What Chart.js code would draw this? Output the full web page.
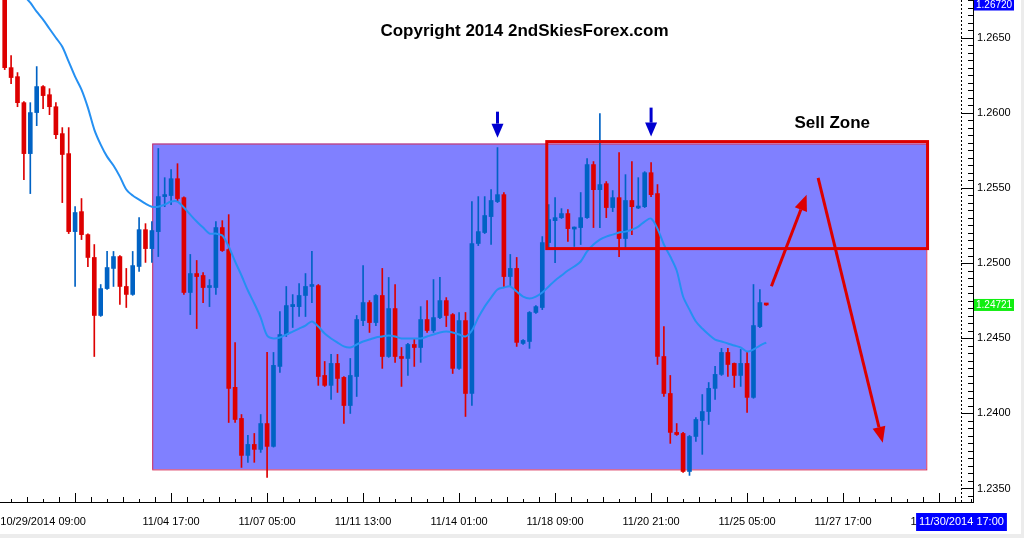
<!doctype html>
<html>

<head>
	<meta charset="utf-8">
	<title>EURUSD H4 - Sell Zone</title>
	<script src="https://cdn.jsdelivr.net/npm/chart.js@4.4.1/dist/chart.umd.min.js"></script>
	<style>
		html, body { margin: 0; padding: 0; background: #ececec; }
		#holder { width: 1021px; height: 534px; background: #fff; position: relative; }
	</style>
</head>

<body>
	<div id="holder"><canvas id="chart"></canvas></div>
	<script>
		// H4 candles, oldest first (slot index = bar number)
		var opens = [1.26785, 1.26300, 1.26240, 1.26067, 1.25728, 1.26001, 1.26174, 1.26120, 1.26040, 1.25861,
			1.25728, 1.25209, 1.25342, 1.25189, 1.25037, 1.24651, 1.24830, 1.24964, 1.25043, 1.24844,
			1.24791, 1.24977, 1.25222, 1.25096, 1.25209, 1.25442, 1.25449, 1.25561, 1.25435, 1.24804,
			1.24930, 1.24917, 1.24837, 1.24837, 1.25236, 1.25090, 1.24173, 1.23966, 1.23720, 1.23793,
			1.23760, 1.23932, 1.23780, 1.24312, 1.24524, 1.24710, 1.24710, 1.24784, 1.24844, 1.24850,
			1.24252, 1.24186, 1.24332, 1.24239, 1.24052, 1.24245, 1.24617, 1.24737, 1.24604, 1.24784,
			1.24378, 1.24697, 1.24378, 1.24365, 1.24458, 1.24438, 1.24624, 1.24551, 1.24637, 1.24750,
			1.24657, 1.24299, 1.24617, 1.24132, 1.25130, 1.25203, 1.25309, 1.25409, 1.25455, 1.24910,
			1.24964, 1.24465, 1.24478, 1.24671, 1.24704, 1.25136, 1.25282, 1.25302, 1.25329, 1.25226,
			1.25236, 1.25302, 1.25655, 1.25488, 1.25528, 1.25369, 1.25435, 1.25163, 1.25416, 1.25366,
			1.25375, 1.25601, 1.25462, 1.24378, 1.24132, 1.23873, 1.23866, 1.23613, 1.23846, 1.23952,
			1.24012, 1.24166, 1.24259, 1.24405, 1.24332, 1.24252, 1.24332, 1.24106, 1.24577, 1.24730];
		var highs = [1.26852, 1.26380, 1.26267, 1.26074, 1.26067, 1.26307, 1.26180, 1.26160, 1.26067, 1.25901,
			1.25901, 1.25375, 1.25429, 1.25195, 1.25123, 1.24857, 1.25077, 1.25077, 1.25050, 1.24964,
			1.25077, 1.25302, 1.25262, 1.25276, 1.25762, 1.25568, 1.25621, 1.25661, 1.25440, 1.25057,
			1.25017, 1.24937, 1.24890, 1.25276, 1.25282, 1.25322, 1.24471, 1.23992, 1.23853, 1.23866,
			1.23992, 1.24405, 1.24405, 1.24677, 1.24844, 1.24790, 1.24864, 1.24930, 1.25077, 1.24857,
			1.24345, 1.24392, 1.24392, 1.24245, 1.24365, 1.24651, 1.24983, 1.24750, 1.24790, 1.24964,
			1.24904, 1.24857, 1.24438, 1.24465, 1.24498, 1.24710, 1.24750, 1.24890, 1.24904, 1.24770,
			1.24664, 1.24671, 1.24671, 1.25409, 1.25442, 1.25442, 1.25488, 1.25768, 1.25469, 1.25057,
			1.25037, 1.24490, 1.24677, 1.24717, 1.25176, 1.25389, 1.25435, 1.25362, 1.25356, 1.25240,
			1.25469, 1.25695, 1.25675, 1.25994, 1.25542, 1.25482, 1.25735, 1.25588, 1.25675, 1.25568,
			1.25608, 1.25668, 1.25522, 1.24577, 1.24252, 1.23932, 1.23873, 1.23853, 1.23972, 1.24125,
			1.24205, 1.24312, 1.24432, 1.24432, 1.24335, 1.24425, 1.24405, 1.24857, 1.24824, 1.24732];
		var lows = [1.26287, 1.26194, 1.26040, 1.25555, 1.25462, 1.25914, 1.26027, 1.25987, 1.25828, 1.25402,
			1.25196, 1.24844, 1.25156, 1.24976, 1.24378, 1.24645, 1.24825, 1.24844, 1.24724, 1.24704,
			1.24785, 1.24944, 1.25004, 1.25004, 1.25043, 1.25375, 1.25389, 1.25409, 1.24791, 1.24657,
			1.24564, 1.24737, 1.24710, 1.24791, 1.25077, 1.23939, 1.23939, 1.23640, 1.23674, 1.23674,
			1.23740, 1.23574, 1.23775, 1.24272, 1.24511, 1.24571, 1.24644, 1.24644, 1.24737, 1.24186,
			1.24179, 1.24092, 1.24139, 1.23932, 1.23999, 1.24112, 1.24584, 1.24538, 1.24584, 1.24299,
			1.24372, 1.24339, 1.24179, 1.24252, 1.24312, 1.24339, 1.24538, 1.24538, 1.24630, 1.24577,
			1.24265, 1.24292, 1.23979, 1.24052, 1.25116, 1.25196, 1.25123, 1.25402, 1.24837, 1.24844,
			1.24445, 1.24458, 1.24432, 1.24664, 1.24690, 1.25090, 1.25003, 1.25296, 1.25143, 1.25110,
			1.25123, 1.25296, 1.25236, 1.25236, 1.25302, 1.25342, 1.25043, 1.25090, 1.25189, 1.25362,
			1.25369, 1.25442, 1.24325, 1.24112, 1.23800, 1.23853, 1.23607, 1.23587, 1.23813, 1.23727,
			1.23926, 1.24092, 1.24252, 1.24245, 1.24172, 1.24179, 1.24006, 1.24100, 1.24570, 1.24718];
		var closes = [1.26300, 1.26234, 1.26067, 1.25728, 1.26001, 1.26174, 1.26114, 1.26040, 1.25854, 1.25722,
			1.25209, 1.25336, 1.25189, 1.25037, 1.24651, 1.24830, 1.24970, 1.25043, 1.24844, 1.24791,
			1.24983, 1.25222, 1.25096, 1.25216, 1.25442, 1.25455, 1.25561, 1.25429, 1.24804, 1.24930,
			1.24910, 1.24837, 1.24844, 1.25236, 1.25083, 1.24166, 1.23959, 1.23720, 1.23793, 1.23760,
			1.23932, 1.23780, 1.24319, 1.24524, 1.24717, 1.24724, 1.24784, 1.24844, 1.24850, 1.24245,
			1.24186, 1.24332, 1.24232, 1.24052, 1.24252, 1.24624, 1.24737, 1.24604, 1.24784, 1.24378,
			1.24697, 1.24378, 1.24365, 1.24458, 1.24438, 1.24624, 1.24551, 1.24637, 1.24750, 1.24651,
			1.24299, 1.24617, 1.24132, 1.25130, 1.25209, 1.25316, 1.25416, 1.25455, 1.24910, 1.24964,
			1.24472, 1.24485, 1.24671, 1.24710, 1.25136, 1.25289, 1.25302, 1.25329, 1.25229, 1.25236,
			1.25302, 1.25655, 1.25488, 1.25522, 1.25369, 1.25435, 1.25163, 1.25416, 1.25375, 1.25375,
			1.25601, 1.25455, 1.24378, 1.24132, 1.23873, 1.23859, 1.23613, 1.23846, 1.23959, 1.24012,
			1.24166, 1.24259, 1.24405, 1.24325, 1.24252, 1.24332, 1.24106, 1.24584, 1.24737, 1.24721];
		// moving average drawn over the candles
		var maValues = [1.26938, 1.26885, 1.26832, 1.26779, 1.26732, 1.26672, 1.26619, 1.26559, 1.26499, 1.26439,
			1.26340, 1.26240, 1.26154, 1.26034, 1.25888, 1.25788, 1.25708, 1.25649, 1.25575, 1.25489,
			1.25449, 1.25422, 1.25395, 1.25375, 1.25375, 1.25389, 1.25409, 1.25409, 1.25369, 1.25322,
			1.25276, 1.25236, 1.25196, 1.25196, 1.25183, 1.25110, 1.25010, 1.24917, 1.24817, 1.24731,
			1.24637, 1.24518, 1.24498, 1.24505, 1.24524, 1.24544, 1.24564, 1.24584, 1.24611, 1.24577,
			1.24531, 1.24498, 1.24471, 1.24445, 1.24438, 1.24458, 1.24478, 1.24491, 1.24505, 1.24511,
			1.24518, 1.24511, 1.24498, 1.24498, 1.24498, 1.24498, 1.24511, 1.24524, 1.24538, 1.24544,
			1.24538, 1.24524, 1.24511, 1.24551, 1.24637, 1.24710, 1.24770, 1.24824, 1.24837, 1.24844,
			1.24810, 1.24777, 1.24764, 1.24777, 1.24804, 1.24844, 1.24884, 1.24917, 1.24950, 1.24977,
			1.25010, 1.25077, 1.25123, 1.25156, 1.25176, 1.25189, 1.25203, 1.25209, 1.25222, 1.25242,
			1.25276, 1.25296, 1.25229, 1.25123, 1.25043, 1.24950, 1.24777, 1.24690, 1.24611, 1.24564,
			1.24524, 1.24491, 1.24478, 1.24465, 1.24451, 1.24438, 1.24411, 1.24425, 1.24451, 1.24471];

		var timeTicks = [6, 26, 41, 56, 71, 86, 101, 116, 131, 146];
		var timeLabels = ['10/29/2014 09:00', '11/04 17:00', '11/07 05:00', '11/11 13:00', '11/14 01:00',
			'11/18 09:00', '11/20 21:00', '11/25 05:00', '11/27 17:00', '11/30 05:00'];
		var priceTicks = [1.2350, 1.2400, 1.2450, 1.2500, 1.2550, 1.2600, 1.2650];

		// drawings on the chart, in bar / price units
		var rangeBox = { from: 23.05, to: 144.0, top: 1.25795, bottom: 1.23627 };
		var sellZone = { from: 84.7, to: 144.2, top: 1.25808, bottom: 1.25096 };
		var markerArrows = [{ x: 77, from: 1.26007, to: 1.25834 }, { x: 101, from: 1.26034, to: 1.25841 }];
		var pathArrows = [{ x1: 119.8, y1: 1.24845, x2: 125.3, y2: 1.25455 }, { x1: 127.1, y1: 1.25566, x2: 137.2, y2: 1.23804 }];
		var sellLabel = { x: 129.3, y: 1.25927, text: 'Sell Zone' };
		var copyright = 'Copyright 2014 2ndSkiesForex.com';
		var topPrice = 1.26720;
		var lastPrice = 1.24721;
		var cursorBar = 149.4;
		var cursorTime = '11/30/2014 17:00';

		var RED = 'rgb(221,0,0)';
		var BLUE = 'rgb(0,98,196)';
		var FONT = '"Liberation Sans", Arial, sans-serif';

		var candleColors = closes.map(function(c, i) { return c >= opens[i] ? BLUE : RED; });

		function drawArrow(ctx, x1, y1, x2, y2, color, width, headLen, headW) {
			var a = Math.atan2(y2 - y1, x2 - x1);
			var bx = x2 - headLen * Math.cos(a), by = y2 - headLen * Math.sin(a);
			ctx.strokeStyle = color;
			ctx.lineWidth = width;
			ctx.beginPath();
			ctx.moveTo(x1, y1);
			ctx.lineTo(bx, by);
			ctx.stroke();
			ctx.fillStyle = color;
			ctx.beginPath();
			ctx.moveTo(x2, y2);
			ctx.lineTo(bx + headW / 2 * Math.sin(a), by - headW / 2 * Math.cos(a));
			ctx.lineTo(bx - headW / 2 * Math.sin(a), by + headW / 2 * Math.cos(a));
			ctx.closePath();
			ctx.fill();
		}

		function priceBox(ctx, chart, y, value, bg) {
			var left = chart.chartArea.right + 1;
			ctx.fillStyle = bg;
			ctx.fillRect(left, y - 6, 40, 12);
			ctx.fillStyle = '#fff';
			ctx.font = '10px ' + FONT;
			ctx.textAlign = 'left';
			ctx.textBaseline = 'middle';
			ctx.fillText(value.toFixed(5), left + 2, y + 0.5);
		}

		// no label overhang padding: the plot runs edge to edge like the terminal
		function noPadding(scale) {
			scale.paddingLeft = 0;
			scale.paddingRight = 0;
			scale.paddingTop = 0;
			scale.paddingBottom = 0;
		}

		var mt4Drawings = {
			id: 'mt4Drawings',
			beforeDatasetsDraw: function(chart) {
				var ctx = chart.ctx, x = chart.scales.x, y = chart.scales.y;
				var l = x.getPixelForValue(rangeBox.from), r = x.getPixelForValue(rangeBox.to);
				var t = y.getPixelForValue(rangeBox.top), b = y.getPixelForValue(rangeBox.bottom);
				ctx.save();
				ctx.fillStyle = '#8080ff';
				ctx.fillRect(l, t, r - l, b - t);
				ctx.strokeStyle = '#d8305a';
				ctx.lineWidth = 1;
				ctx.strokeRect(l + 0.5, t + 0.5, r - l, b - t);
				ctx.restore();
			},
			afterDatasetsDraw: function(chart) {
				var ctx = chart.ctx, x = chart.scales.x, y = chart.scales.y, area = chart.chartArea;
				ctx.save();
				// sell zone
				var l = x.getPixelForValue(sellZone.from), r = x.getPixelForValue(sellZone.to);
				var t = y.getPixelForValue(sellZone.top), b = y.getPixelForValue(sellZone.bottom);
				ctx.strokeStyle = RED;
				ctx.lineWidth = 3;
				ctx.strokeRect(l, t, r - l, b - t);
				// swing-high markers
				markerArrows.forEach(function(m) {
					drawArrow(ctx, x.getPixelForValue(m.x), y.getPixelForValue(m.from),
						x.getPixelForValue(m.x), y.getPixelForValue(m.to), '#0000d0', 3, 14, 12);
				});
				// expected path
				pathArrows.forEach(function(p) {
					drawArrow(ctx, x.getPixelForValue(p.x1), y.getPixelForValue(p.y1),
						x.getPixelForValue(p.x2), y.getPixelForValue(p.y2), RED, 3, 16, 13);
				});
				// texts
				ctx.fillStyle = '#000';
				ctx.font = 'bold 17px ' + FONT;
				ctx.textAlign = 'center';
				ctx.textBaseline = 'middle';
				ctx.fillText(copyright, (area.left + area.right) / 2 + 38, 31);
				ctx.fillText(sellLabel.text, x.getPixelForValue(sellLabel.x), y.getPixelForValue(sellLabel.y));
				ctx.restore();
			},
			afterDraw: function(chart) {
				var ctx = chart.ctx, x = chart.scales.x, y = chart.scales.y, area = chart.chartArea;
				ctx.save();
				ctx.strokeStyle = '#000';
				ctx.lineWidth = 1;
				// price ticks inside the right border
				for (var k = 0; k <= 66; k++) {
					var v = 1.2345 + k * 0.0005;
					var py = Math.round(y.getPixelForValue(v)) + 0.5;
					if (py < area.top || py > area.bottom) continue;
					var len = (k % 10 === 1) ? 12 : 5;
					ctx.beginPath();
					ctx.moveTo(area.right - len, py);
					ctx.lineTo(area.right, py);
					ctx.stroke();
				}
				// time ticks along the bottom
				for (var s = 1; s <= 151; s += 2.5) {
					var px = Math.round(x.getPixelForValue(s)) + 0.5;
					var major = Math.abs((s - 11) % 15) < 0.01;
					var tl = major ? 9 : ((s * 2) % 10 === 2 ? 3 : 5);
					ctx.beginPath();
					ctx.moveTo(px, area.bottom);
					ctx.lineTo(px, area.bottom - tl);
					ctx.stroke();
				}
				// shift line
				var cx = Math.round(x.getPixelForValue(cursorBar)) + 0.5;
				ctx.setLineDash([2, 2]);
				ctx.beginPath();
				ctx.moveTo(cx, area.top);
				ctx.lineTo(cx, area.bottom);
				ctx.stroke();
				ctx.setLineDash([]);
				// price / time boxes
				priceBox(ctx, chart, y.getPixelForValue(topPrice), topPrice, '#0000ff');
				priceBox(ctx, chart, y.getPixelForValue(lastPrice), lastPrice, '#11ee11');
				ctx.font = '11px ' + FONT;
				var w = ctx.measureText(cursorTime).width + 6;
				ctx.fillStyle = '#0000ff';
				ctx.fillRect(cx - w / 2, area.bottom + 11, w, 18);
				ctx.fillStyle = '#fff';
				ctx.textAlign = 'center';
				ctx.textBaseline = 'middle';
				ctx.fillText(cursorTime, cx, area.bottom + 20);
				ctx.restore();
			}
		};

		var config = {
			type: 'bar',
			data: {
				datasets: [{
					type: 'line',
					label: 'MA',
					data: maValues.map(function(v, i) { return { x: i, y: v }; }),
					borderColor: '#2590f2',
					borderWidth: 2,
					pointRadius: 0,
					tension: 0.3,
					order: 0
				}, {
					label: 'Body',
					data: opens.map(function(o, i) { return { x: i, y: [o, closes[i]] }; }),
					backgroundColor: candleColors,
					barThickness: 4,
					minBarLength: 2,
					grouped: false,
					order: 1
				}, {
					label: 'Wick',
					data: lows.map(function(lo, i) { return { x: i, y: [lo, highs[i]] }; }),
					backgroundColor: candleColors,
					barThickness: 1,
					grouped: false,
					order: 2
				}]
			},
			options: {
				responsive: true,
				maintainAspectRatio: false,
				animation: false,
				layout: { autoPadding: false, padding: 0 },
				plugins: { legend: { display: false }, tooltip: { enabled: false } },
				scales: {
					x: {
						type: 'linear',
						min: -0.734,
						max: 151.3,
						offset: false,
						afterBuildTicks: function(scale) {
							scale.ticks = timeTicks.map(function(v) { return { value: v }; });
						},
						afterFit: function(scale) { scale.height = 32; noPadding(scale); },
						ticks: {
							autoSkip: false,
							maxRotation: 0,
							padding: 13,
							color: '#000',
							font: { family: FONT, size: 11 },
							callback: function(v, i) { return timeLabels[i]; }
						},
						grid: { drawOnChartArea: false, drawTicks: false },
						border: { display: true, color: '#000', width: 1 }
					},
					y: {
						type: 'linear',
						position: 'right',
						min: 1.2341,
						max: 1.2675,
						afterBuildTicks: function(scale) {
							scale.ticks = priceTicks.map(function(v) { return { value: v }; });
						},
						afterFit: function(scale) { scale.width = 48; noPadding(scale); },
						ticks: {
							padding: 4,
							color: '#000',
							font: { family: FONT, size: 11 },
							callback: function(v) { return v.toFixed(4); }
						},
						grid: { drawOnChartArea: false, drawTicks: false },
						border: { display: true, color: '#000', width: 1 }
					}
				}
			},
			plugins: [mt4Drawings]
		};

		window.onload = function() {
			var ctx = document.getElementById('chart').getContext('2d');
			window.myChart = new Chart(ctx, config);
		};
	</script>
</body>

</html>
